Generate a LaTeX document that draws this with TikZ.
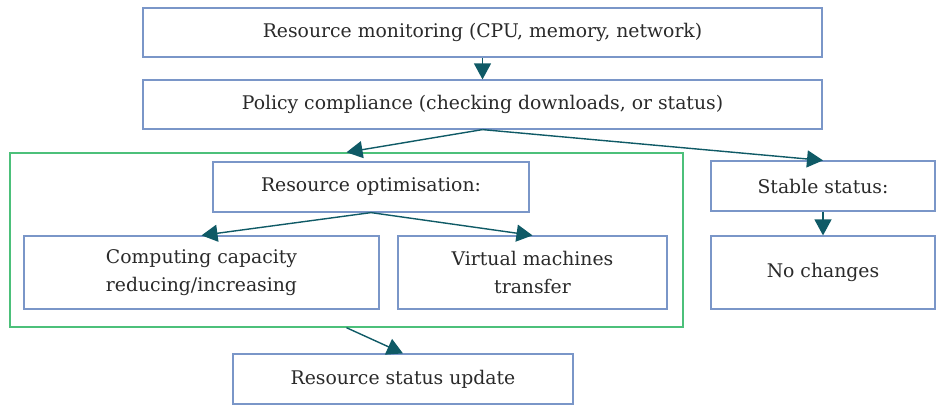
\documentclass[tikz,border=0pt]{standalone}
\usepackage{fontspec}
\setmainfont{DejaVu Serif}
\usetikzlibrary{arrows.meta}
\definecolor{boxblue}{HTML}{7A96C8}
\definecolor{framegreen}{HTML}{4CC07A}
\definecolor{arrowteal}{HTML}{0F5A66}
\definecolor{textgray}{HTML}{2A2A2A}
\tikzset{
  box/.style={draw=boxblue, line width=1.2pt, fill=white, rectangle, align=center,
    inner sep=0pt, font=\fontsize{18.8}{27.5}\selectfont, text=textgray},
  conn/.style={draw=arrowteal, line width=1.4pt,
    -{Triangle[length=16pt,width=17pt]}},
}
\begin{document}
\begin{tikzpicture}[x=1pt,y=-1pt]
\useasboundingbox (0,0) rectangle (936,405);
\node[draw=framegreen, line width=1.4pt, minimum width=673pt, minimum height=174pt, inner sep=0pt] (frame) at (346.5,240) {};
\node[box, minimum width=679pt, minimum height=49pt] (m1) at (482.5,32.5) {Resource monitoring (CPU, memory, network)};
\node[box, minimum width=679pt, minimum height=49pt] (m2) at (482.5,104.5) {Policy compliance (checking downloads, or status)};
\node[box, minimum width=316pt, minimum height=50pt] (opt) at (371,187) {Resource optimisation:};
\node[box, minimum width=355pt, minimum height=73pt] (comp) at (201.5,272.5) {Computing capacity\\reducing/increasing};
\node[box, minimum width=269pt, minimum height=73pt] (vm) at (532.5,272.5) {Virtual machines\\transfer};
\node[box, minimum width=224pt, minimum height=50pt] (stab) at (823,186) {Stable status:};
\node[box, minimum width=224pt, minimum height=73pt] (noch) at (823,272.5) {No changes};
\node[box, minimum width=340pt, minimum height=50pt] (upd) at (403,379) {Resource status update};
\draw[conn] (m1.south) -- (m2.north);
\draw[conn] (m2.south) -- (frame.north);
\draw[conn] (m2.south) -- (stab.north);
\draw[conn] (opt.south) -- (comp.north);
\draw[conn] (opt.south) -- (vm.north);
\draw[conn] (stab.south) -- (noch.north);
\draw[conn] (frame.south) -- (upd.north);
\end{tikzpicture}
\end{document}
